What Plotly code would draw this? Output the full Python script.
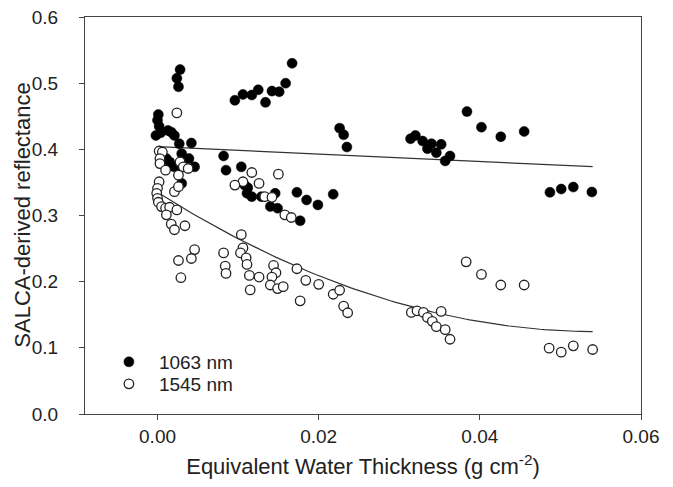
import plotly.graph_objects as go
import numpy as np

# 1063 nm (filled circles)
ewt_1063 = [0.0001, 0.0000, 0.0002, -0.0002, 0.0004, 0.0013, 0.0017, 0.0021, 0.0027, 0.0042,
            0.0011, 0.0015, 0.0030, 0.0039, 0.0021, 0.0028, 0.0046, 0.0030, 0.0028, 0.0024, 0.0026,
            0.0082, 0.0085, 0.0104, 0.0108, 0.0112, 0.0111, 0.0117, 0.0129, 0.0146, 0.0140, 0.0149,
            0.0177, 0.0173, 0.0185, 0.0199, 0.0218,
            0.0096, 0.0106, 0.0117, 0.0125, 0.0134, 0.0142, 0.0151, 0.0159, 0.0167,
            0.0226, 0.0231, 0.0235,
            0.0314, 0.0320, 0.0329, 0.0335, 0.0340, 0.0346, 0.0352, 0.0357, 0.0363,
            0.0384, 0.0402, 0.0426, 0.0455, 0.0487, 0.0501, 0.0516, 0.0539]
refl_1063 = [0.4525, 0.444, 0.435, 0.421, 0.425, 0.4285, 0.426, 0.421, 0.4085, 0.4095,
             0.386, 0.381, 0.3935, 0.386, 0.3735, 0.3765, 0.3735, 0.3485, 0.5205, 0.5075, 0.4945,
             0.390, 0.3685, 0.3735, 0.346, 0.342, 0.3335, 0.3285, 0.3285, 0.3335, 0.3135, 0.311,
             0.292, 0.335, 0.3235, 0.316, 0.332,
             0.474, 0.483, 0.482, 0.490, 0.471, 0.488, 0.487, 0.500, 0.530,
             0.432, 0.422, 0.4035,
             0.416, 0.421, 0.4125, 0.401, 0.4085, 0.395, 0.4075, 0.3825, 0.390,
             0.457, 0.4335, 0.419, 0.427, 0.335, 0.340, 0.343, 0.3355]

# 1545 nm (open circles)
ewt_1545 = [0.0024, 0.0002, 0.0006, 0.0003, 0.0003, 0.0010, 0.0028, 0.0032, 0.0038, 0.0026,
            0.0002, 0.0000, -0.0001, 0.0000, 0.0001, 0.0005, 0.0010, 0.0015, 0.0024, 0.0011,
            0.0017, 0.0021, 0.0034, 0.0021, 0.0026, 0.0046, 0.0042, 0.0026, 0.0029,
            0.0117, 0.0106, 0.0096, 0.0126, 0.0150, 0.0133, 0.0142, 0.0158, 0.0166, 0.0104,
            0.0082, 0.0084, 0.0085, 0.0106, 0.0103, 0.0110, 0.0111, 0.0114, 0.0126, 0.0115,
            0.0144, 0.0147, 0.0142, 0.0140, 0.0149, 0.0156, 0.0173, 0.0184, 0.0200, 0.0177,
            0.0218, 0.0226, 0.0231, 0.0236,
            0.0383, 0.0402, 0.0426, 0.0455, 0.0315, 0.0322, 0.0330, 0.0335, 0.0341, 0.0346,
            0.0352, 0.0357, 0.0363, 0.0486, 0.0501, 0.0516, 0.0540]
refl_1545 = [0.455, 0.3975, 0.396, 0.386, 0.3785, 0.3685, 0.381, 0.3735, 0.371, 0.361,
             0.351, 0.341, 0.3335, 0.326, 0.320, 0.3135, 0.311, 0.3125, 0.3085, 0.301,
             0.287, 0.2785, 0.2845, 0.336, 0.3435, 0.2485, 0.235, 0.232, 0.206,
             0.365, 0.351, 0.346, 0.3485, 0.3625, 0.3285, 0.3275, 0.301, 0.297, 0.271,
             0.2435, 0.2235, 0.2125, 0.251, 0.2435, 0.236, 0.226, 0.2095, 0.207, 0.1875,
             0.2245, 0.2135, 0.207, 0.195, 0.1895, 0.1925, 0.2195, 0.202, 0.196, 0.171,
             0.181, 0.187, 0.163, 0.153,
             0.230, 0.211, 0.195, 0.195, 0.1535, 0.156, 0.1535, 0.146, 0.140, 0.132,
             0.155, 0.1275, 0.113, 0.0995, 0.0935, 0.103, 0.0975]

# fitted regressions
fit_1063_coef = [0.404, -0.56]            # intercept, slope
fit_1545_coef = [0.335, -7.71, 70.6]      # quadratic
fit_x_range = [0.0, 0.054]

x_ticks = [0.00, 0.02, 0.04, 0.06]
y_ticks = [0.0, 0.1, 0.2, 0.3, 0.4, 0.5, 0.6]

xf = np.linspace(fit_x_range[0], fit_x_range[1], 100)
y1 = fit_1063_coef[0] + fit_1063_coef[1] * xf
y2 = fit_1545_coef[0] + fit_1545_coef[1] * xf + fit_1545_coef[2] * xf ** 2

FONT = "Liberation Sans, Arial, sans-serif"
fig = go.Figure()
fig.add_trace(go.Scatter(x=xf, y=y1, mode="lines", line=dict(color="#333333", width=1.2),
                         showlegend=False, hoverinfo="skip"))
fig.add_trace(go.Scatter(x=xf, y=y2, mode="lines", line=dict(color="#333333", width=1.2),
                         showlegend=False, hoverinfo="skip"))
fig.add_trace(go.Scatter(x=ewt_1063, y=refl_1063, mode="markers", name="1063 nm",
                         legend="legend",
                         marker=dict(symbol="circle", size=10, color="black",
                                     line=dict(color="black", width=0.5))))
fig.add_trace(go.Scatter(x=ewt_1545, y=refl_1545, mode="markers", name="1545 nm",
                         legend="legend2",
                         marker=dict(symbol="circle", size=9.5, color="white",
                                     line=dict(color="#222222", width=1.3))))

axis_common = dict(showgrid=False, zeroline=False, showline=True, linecolor="#444444",
                   linewidth=1.3, mirror=True, ticks="outside", ticklen=5, tickwidth=1.2,
                   tickcolor="#444444", automargin=False, ticklabeloverflow="allow",
                   tickfont=dict(family=FONT, size=19, color="#222222"))

legend_common = dict(xanchor="left", yanchor="middle", bgcolor="rgba(0,0,0,0)",
                     font=dict(family=FONT, size=19, color="#222222"), itemwidth=50)

# page body has an 8px margin: figure is sized/offset to compensate
fig.update_layout(
    width=657, height=471,
    margin=dict(l=77, r=24, t=9, b=65),
    paper_bgcolor="white", plot_bgcolor="white",
    font=dict(family=FONT, color="#222222"),
    xaxis=dict(range=[-0.009, 0.06], tickvals=x_ticks, tickformat=".2f",
               title=dict(text="Equivalent Water Thickness (g cm<sup>-2</sup>)",
                          font=dict(family=FONT, size=22), standoff=13),
               **axis_common),
    yaxis=dict(range=[0, 0.6], tickvals=y_ticks, tickformat=".1f", ticklabelstandoff=17,
               **axis_common),
    legend=dict(x=0.025, y=0.131, **legend_common),
    legend2=dict(x=0.025, y=0.0756, **legend_common),
    annotations=[dict(text="SALCA-derived reflectance", xref="paper", yref="paper",
                      x=-0.113, y=0.5, xanchor="center", yanchor="middle",
                      textangle=-90, showarrow=False,
                      font=dict(family=FONT, size=22, color="#222222"))],
)

fig.write_html("out.html")
